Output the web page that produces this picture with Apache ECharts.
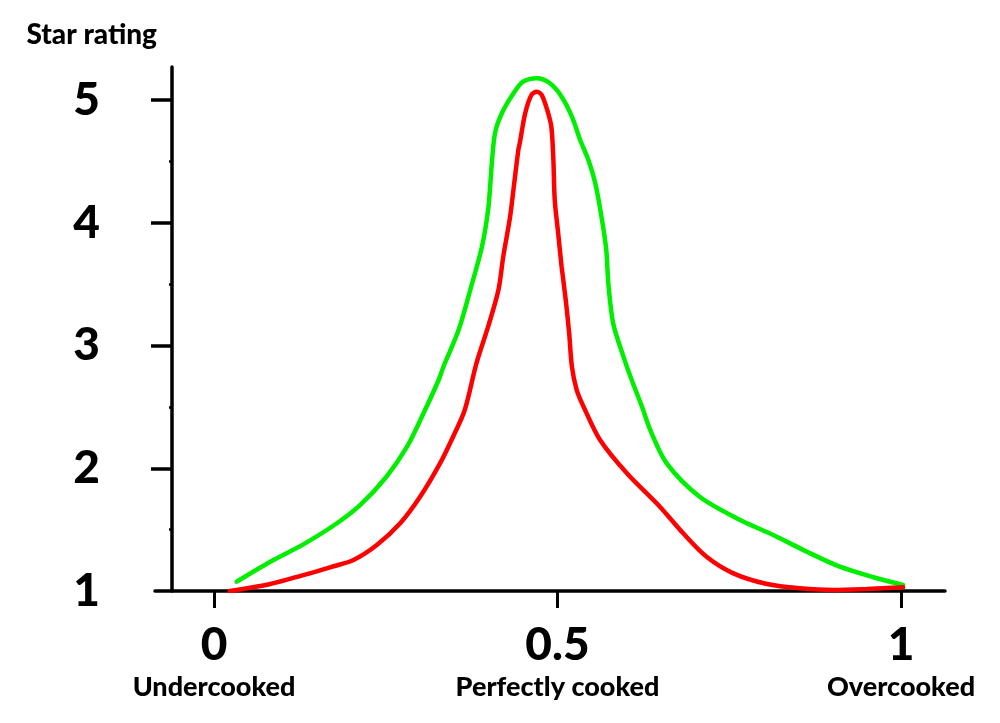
<!DOCTYPE html>
<html><head><meta charset="utf-8">
<script src="https://cdn.jsdelivr.net/npm/echarts@6/dist/echarts.min.js"></script>
<style>html,body{margin:0;padding:0;background:#fff}#c{width:1000px;height:723px}</style>
</head><body><div id="c"></div>
<script>
// Doneness (0 = undercooked, 1 = overcooked) vs star rating
const greenX = [0.033,0.082,0.130,0.179,0.213,0.251,0.281,0.305,0.327,0.334,0.356,0.373,0.390,0.399,0.403,0.404,0.409,0.419,0.436,0.450,0.470,0.489,0.506,0.521,0.533,0.545,0.555,0.564,0.571,0.574,0.581,0.596,0.608,0.623,0.635,0.659,0.707,0.766,0.814,0.863,0.911,0.960,1.003];
const greenY = [1.076,1.239,1.380,1.552,1.701,1.931,2.176,2.448,2.719,2.827,3.126,3.452,3.805,4.104,4.375,4.457,4.729,4.892,5.055,5.149,5.177,5.136,5.027,4.864,4.674,4.511,4.321,4.049,3.778,3.507,3.181,2.909,2.719,2.501,2.312,2.040,1.768,1.578,1.456,1.320,1.198,1.112,1.049];
const redX = [0.023,0.082,0.130,0.169,0.203,0.237,0.271,0.300,0.329,0.348,0.365,0.382,0.399,0.414,0.421,0.431,0.437,0.443,0.445,0.453,0.462,0.470,0.477,0.485,0.491,0.494,0.496,0.501,0.506,0.512,0.517,0.521,0.528,0.538,0.562,0.601,0.649,0.683,0.717,0.756,0.805,0.853,0.902,0.950,1.003];
const redY = [1.000,1.057,1.130,1.193,1.253,1.375,1.552,1.768,2.040,2.257,2.475,2.855,3.153,3.452,3.723,4.049,4.321,4.593,4.647,4.892,5.041,5.068,5.041,4.919,4.783,4.511,4.185,3.914,3.642,3.371,3.099,2.827,2.637,2.501,2.230,1.959,1.687,1.470,1.279,1.144,1.057,1.022,1.008,1.016,1.030];

const xTickValues = [0, 0.5, 1];
const xTickLabels = ['0', '0.5', '1'];
const xTickNames = ['Undercooked', 'Perfectly cooked', 'Overcooked'];
const yTickValues = [1, 2, 3, 4, 5];
const yAxisName = 'Star rating';

const zip = (xs, ys) => xs.map((x, i) => [x, ys[i]]);
const FONT = 'Lato';
const W = 900;

const chart = echarts.init(document.getElementById('c'), null, {renderer: 'canvas'});
chart.setOption({
  animation: false,
  backgroundColor: '#ffffff',
  grid: {left: 155, right: 55, top: 67, bottom: 132, containLabel: false},
  xAxis: {
    type: 'value',
    min: (155 - 214) / 687,
    max: (945 - 214) / 687,
    splitLine: {show: false},
    axisLine: {show: true, onZero: false, lineStyle: {color: '#000', width: 3.5, cap: 'round'}},
    axisTick: {show: true, customValues: xTickValues, length: 17, lineStyle: {color: '#000', width: 3}},
    axisLabel: {
      customValues: xTickValues,
      margin: 29,
      formatter: function (v) {
        const i = xTickValues.findIndex(t => Math.abs(t - v) < 1e-9);
        if (i < 0) return '';
        return '{n|' + xTickLabels[i] + '}\n{d|' + xTickNames[i] + '}';
      },
      rich: {
        n: {fontFamily: FONT, fontWeight: W, fontSize: 46, lineHeight: 50, color: '#000', align: 'center'},
        d: {fontFamily: FONT, fontWeight: W, fontSize: 27, lineHeight: 34, color: '#000', align: 'center'}
      }
    }
  },
  yAxis: {
    type: 'value',
    min: 1,
    max: 5 + (100 - 67) / 122.75,
    offset: -17,
    name: yAxisName,
    nameLocation: 'end',
    nameGap: 18,
    nameTextStyle: {fontFamily: FONT, fontWeight: W, fontSize: 28, color: '#000', align: 'right', padding: [0, 15, 0, 0]},
    splitLine: {show: false},
    axisLine: {show: true, onZero: false, lineStyle: {color: '#000', width: 3.5, cap: 'round'}},
    axisTick: {show: true, customValues: [2, 3, 4, 5], length: 21, lineStyle: {color: '#000', width: 3.5}},
    minorTick: {show: true, splitNumber: 2, length: 3, lineStyle: {color: '#000', width: 2.5}},
    axisLabel: {
      customValues: yTickValues,
      margin: 72,
      fontFamily: FONT, fontWeight: W, fontSize: 46, color: '#000',
      formatter: v => String(v)
    }
  },
  series: [
    {type: 'line', name: 'green', data: zip(greenX, greenY), smooth: 0.3, showSymbol: false, symbol: 'none',
     lineStyle: {color: '#00ee00', width: 4.5, cap: 'round'}, z: 3},
    {type: 'line', name: 'red', data: zip(redX, redY), smooth: 0.3, showSymbol: false, symbol: 'none',
     lineStyle: {color: '#ff0000', width: 4.5, cap: 'round'}, z: 4}
  ]
});
</script>
</body></html>
